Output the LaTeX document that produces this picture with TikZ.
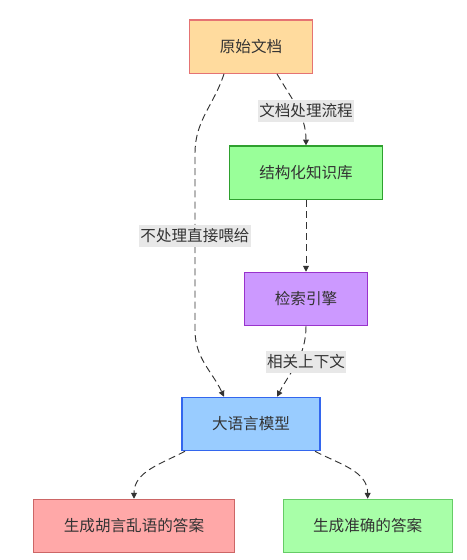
\documentclass[tikz,border=0pt]{standalone}
\usepackage{fontspec}
\newfontfamily\cjk{Noto Sans CJK SC}
\usetikzlibrary{arrows.meta}

\definecolor{texto}{HTML}{333333}
\definecolor{cinza}{HTML}{E8E8E8}
\definecolor{laranja}{HTML}{FFDB9E}
\definecolor{laranjaB}{HTML}{E57373}
\definecolor{verde}{HTML}{99FF99}
\definecolor{verdeB}{HTML}{2EA02E}
\definecolor{roxo}{HTML}{CC99FF}
\definecolor{roxoB}{HTML}{9933CC}
\definecolor{azul}{HTML}{99CCFF}
\definecolor{azulB}{HTML}{3366EE}
\definecolor{rosa}{HTML}{FFA8A8}
\definecolor{rosaB}{HTML}{CC6666}
\definecolor{verdeclaro}{HTML}{A8FFA8}
\definecolor{verdeclaroB}{HTML}{66CC66}

\begin{document}
\begin{tikzpicture}[
		caixa/.style={draw, line width=1pt, inner xsep=0.9cm, minimum height=1.6cm, text=texto, font=\cjk\fontsize{13.3}{16}\selectfont},
		rotulo/.style={fill=cinza, inner xsep=1pt, minimum height=0.63cm, text=texto, font=\cjk\fontsize{13.3}{16}\selectfont},
		seta/.style={draw=texto, line width=0.8pt, dash pattern=on 6pt off 3.5pt, -{Triangle[length=5pt,width=5pt]}}
	]
		\useasboundingbox[fill=white] (0,0) rectangle (14.01,16.8);		% Fundo
		
		% Caixas
		\node[caixa, fill=laranja, draw=laranjaB] (doc) at (7.53,15.40) {原始文档};
		\node[caixa, fill=verde, draw=verdeB] (base) at (9.18,11.62) {结构化知识库};
		\node[caixa, fill=roxo, draw=roxoB] (busca) at (9.18,7.83) {检索引擎};
		\node[caixa, fill=azul, draw=azulB] (llm) at (7.53,4.08) {大语言模型};
		\node[caixa, fill=rosa, draw=rosaB] (ruim) at (4.02,1.02) {生成胡言乱语的答案};
		\node[caixa, fill=verdeclaro, draw=verdeclaroB] (bom) at (11.03,1.02) {生成准确的答案};
		
		% Setas
		\draw[seta] ([xshift=-0.81cm]doc.south) to[out=-108,in=90] (5.85,12.2) -- (5.85,6.9) to[out=-90,in=115] ([xshift=-0.81cm]llm.north);
		\draw[seta] ([xshift=0.78cm]doc.south) to[out=-60,in=90] (base.north);
		\draw[seta] (base.south) -- (busca.north);
		\draw[seta] (busca.south) to[out=-90,in=62] ([xshift=0.78cm]llm.north);
		\draw[seta] ([xshift=-1.98cm]llm.south) to[out=-152,in=90] (ruim.north);
		\draw[seta] ([xshift=1.92cm]llm.south) to[out=-28,in=90] (bom.north);
		
		% Rótulos
		\node[rotulo] (l1) at (9.18,13.47) {文档处理流程};
		\node[rotulo] (l2) at (5.85,9.72) {不处理直接喂给};
		\node[rotulo] (l3) at (9.18,5.94) {相关上下文};
	\end{tikzpicture}
\end{document}
